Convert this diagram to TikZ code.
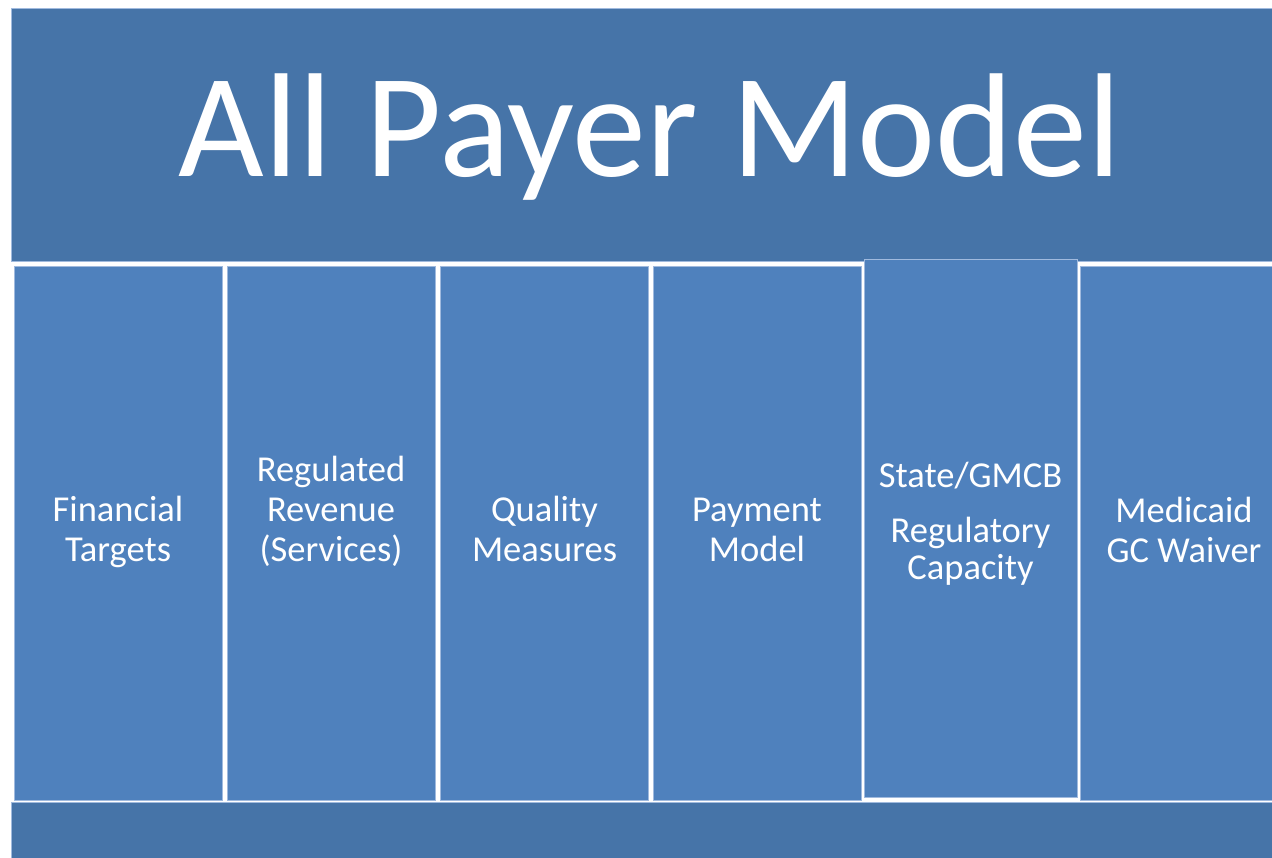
\documentclass[tikz,border=0pt]{standalone}
\usepackage{fontspec}
\setmainfont{Carlito}
\definecolor{roofblue}{RGB}{70,116,168}
\definecolor{pillarblue}{RGB}{79,129,189}
\definecolor{edgeblue}{RGB}{160,186,222}
\begin{document}
\begin{tikzpicture}[x=1pt,y=-1pt,
  slab/.style={fill=roofblue, draw=edgeblue, line width=0.8pt, inner sep=0pt},
  pillar/.style={fill=pillarblue, draw=edgeblue, line width=0.8pt, inner sep=0pt,
    minimum width=208pt, minimum height=534pt},
  label/.style={anchor=base, text=white, inner sep=0pt, align=center,
    font=\fontsize{36.5}{40}\selectfont},
]
\useasboundingbox (0,0) rectangle (1272,858);
\fill[white] (0,0) rectangle (1272,858);
\clip (0,0) rectangle (1272,858);

% roof banner and title
\node[slab, anchor=north west, minimum width=1278pt, minimum height=253pt] (roof) at (11,8) {};
\node[anchor=base, text=white, inner sep=0pt, font=\fontsize{148}{170}\selectfont] (title) at (650,177) {All Payer Model};

% pillars
\node[pillar] (p1) at (118,533) {};
\node[pillar] (p2) at (331,533) {};
\node[pillar] (p3) at (544.5,533) {};
\node[pillar] (p4) at (757,533) {};
\node[pillar, minimum width=213pt, minimum height=538pt] (p5) at (970.5,528) {};
\node[pillar] (p6) at (1184,533) {};

% pillar labels, placed by the baseline of their last line
\node[label] (t1) at (118,561) {Financial\\Targets};
\node[label] (t2) at (331,561) {Regulated\\Revenue\\(Services)};
\node[label] (t3) at (544.5,561) {Quality\\Measures};
\node[label] (t4) at (757,561) {Payment\\Model};
\node[label] (t5a) at (970.5,487) {State/GMCB};
\node[label, font=\fontsize{36.5}{36.5}\selectfont] (t5b) at (970.5,579) {Regulatory\\Capacity};
\node[label] (t6) at (1184,562) {Medicaid\\GC Waiver};

% foundation
\node[slab, anchor=north west, minimum width=1278pt, minimum height=70pt] (base) at (11,802) {};
\end{tikzpicture}
\end{document}
